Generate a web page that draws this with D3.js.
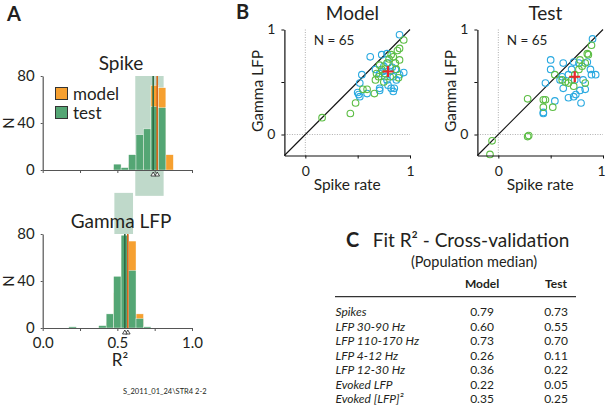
<!DOCTYPE html>
<html>
<head>
<meta charset="utf-8">
<script src="https://cdnjs.cloudflare.com/ajax/libs/d3/7.8.5/d3.min.js"></script>
<style>
  body { margin: 0; background: #fff; }
  text { font-family: Lato, "Open Sans", sans-serif; fill: #231f20; }
</style>
</head>
<body>
<svg id="fig" width="606" height="406"></svg>
<script>
  // ---- panel A : histograms of R2 (bin width 0.05, centres below) ----
  var binCentres = [0.2,0.25,0.3,0.35,0.4,0.45,0.5,0.55,0.6,0.65,0.7,0.75,0.8,0.85];
  var spikeModel = [0,0,0,0,0,0,2,1,5,12,25,72,70,13];
  var spikeTest  = [0,0,0,0,0,0,5,2,13,30,35,54,53,0];
  var lfpModel   = [0,0,0,0,1,5,30,60,74,12,0,0,0,0];
  var lfpTest    = [1,0,0,0,2,12,44,79,49,8,1,0,0,0];
  var spikeMedian = [0.767, 0.74];   // model, test
  var lfpMedian   = [0.57, 0.55];
  var spikeShade  = [0.62, 0.81, -22, 80];   // x0, x1, n0, n1
  var lfpShade    = [0.48, 0.605, 80, 115];
  var histTicks   = [0, 0.25, 0.5, 0.75, 1];

  // ---- panel B : scatter, spike rate R2 vs gamma LFP R2 ----
  var modelCyan = [[0.90,0.95],[0.62,0.74],[0.73,0.76],[0.78,0.77],[0.54,0.57],[0.52,0.49],
    [0.50,0.40],[0.52,0.36],[0.71,0.44],[0.71,0.42],[0.79,0.47],[0.82,0.44],[0.84,0.41],
    [0.85,0.44],[0.67,0.62],[0.71,0.58],[0.81,0.60],[0.86,0.62],[0.94,0.59],[0.90,0.57],
    [0.84,0.55],[0.78,0.52],[0.87,0.52],[0.75,0.65],[0.79,0.68],[0.59,0.39],[0.51,0.38],
    [0.76,0.55],[0.83,0.64],[0.74,0.60]];
  var modelGreen = [[0.16,0.16],[0.43,0.20],[0.48,0.30],[0.59,0.43],[0.55,0.43],[0.66,0.39],
    [0.67,0.52],[0.70,0.55],[0.73,0.62],[0.78,0.68],[0.84,0.74],[0.88,0.80],[0.90,0.82],
    [0.94,0.90],[0.86,0.68],[0.87,0.62],[0.89,0.54],[0.81,0.55],[0.76,0.58],[0.71,0.66],
    [0.82,0.76],[0.90,0.71],[0.75,0.50],[0.68,0.58],[0.80,0.72]];
  var testCyan = [[0.43,0.21],[0.43,0.20],[0.54,0.32],[0.45,0.49],[0.50,0.62],[0.50,0.71],
    [0.62,0.68],[0.72,0.69],[0.77,0.68],[0.61,0.55],[0.59,0.52],[0.62,0.44],[0.67,0.35],
    [0.72,0.36],[0.74,0.38],[0.79,0.30],[0.78,0.42],[0.83,0.43],[0.81,0.52],[0.88,0.62],
    [0.93,0.57],[0.89,0.57],[0.90,0.91],[0.70,0.62],[0.73,0.52],[0.67,0.57],[0.85,0.69]];
  var testGreen = [[-0.08,-0.19],[-0.06,-0.06],[0.28,-0.02],[0.29,-0.01],[0.28,0.34],[0.43,0.26],
    [0.45,0.33],[0.52,0.26],[0.54,0.57],[0.64,0.50],[0.67,0.49],[0.70,0.52],[0.73,0.57],
    [0.77,0.62],[0.80,0.65],[0.83,0.68],[0.85,0.77],[0.86,0.76],[0.89,0.85],[0.83,0.49],
    [0.78,0.71],[0.72,0.46],[0.61,0.52],[0.43,0.33]];
  var modelCentre = [0.79, 0.60];
  var testCentre  = [0.73, 0.55];

  // ---- panel C : table of population medians ----
  var tableRows  = ["Spikes","LFP 30-90 Hz","LFP 110-170 Hz","LFP 4-12 Hz","LFP 12-30 Hz","Evoked LFP","Evoked [LFP]\u00b2"];
  var tableModel = ["0.79","0.60","0.73","0.26","0.36","0.22","0.35"];
  var tableTest  = ["0.73","0.55","0.70","0.11","0.22","0.05","0.25"];

  var ORANGE = "#f6a030", GREEN = "#54a674", GREEN_LINE = "#2e6b45", ORANGE_LINE = "#d9661b";
  var SHADE = "#bfd9ca", CYAN = "#29a9e0", LGREEN = "#5cbd44", RED = "#e8262d";

  var svg = d3.select("#fig");
  svg.append("rect").attr("width", 606).attr("height", 406).attr("fill", "#fff");

  function styleAxis(g, col, size) {
    g.select(".domain").attr("stroke", col).attr("stroke-width", 1.2);
    g.selectAll(".tick line").attr("stroke", col);
    g.selectAll(".tick text").attr("fill", "#231f20")
      .style("font-family", "Lato, 'Open Sans', sans-serif").style("font-size", size + "px");
  }

  var xHist = d3.scaleLinear().domain([0, 1]).range([42.7, 192]);

  function drawHist(yBase, title, model, test, med, shade, withLabels) {
    var y = d3.scaleLinear().domain([0, 80]).range([yBase, yBase - 94]);
    var g = svg.append("g");

    g.append("rect")
      .attr("x", xHist(shade[0])).attr("width", xHist(shade[1]) - xHist(shade[0]))
      .attr("y", y(shade[3])).attr("height", y(shade[2]) - y(shade[3]))
      .attr("fill", SHADE);

    var bw = xHist(0.05) - xHist(0);
    g.selectAll(".mbar").data(binCentres).enter()
      .filter(function(d, i){ return model[i] > 0; })
      .append("rect")
      .attr("x", function(d){ return xHist(d - 0.025); })
      .attr("width", bw)
      .attr("y", function(d){ return y(model[binCentres.indexOf(d)]); })
      .attr("height", function(d){ return y(0) - y(model[binCentres.indexOf(d)]); })
      .attr("fill", ORANGE).attr("stroke", "#fff").attr("stroke-width", 0.4);

    g.selectAll(".tbar").data(binCentres).enter()
      .filter(function(d, i){ return test[i] > 0; })
      .append("rect")
      .attr("x", function(d){ return xHist(d - 0.025); })
      .attr("width", bw)
      .attr("y", function(d){ return y(test[binCentres.indexOf(d)]); })
      .attr("height", function(d){ return y(0) - y(test[binCentres.indexOf(d)]); })
      .attr("fill", GREEN).attr("stroke", "#fff").attr("stroke-width", 0.4);

    // medians
    g.append("line").attr("x1", xHist(med[1])).attr("x2", xHist(med[1]))
      .attr("y1", y(80)).attr("y2", y(0)).attr("stroke", GREEN_LINE).attr("stroke-width", 1.6);
    g.append("line").attr("x1", xHist(med[0])).attr("x2", xHist(med[0]))
      .attr("y1", y(80)).attr("y2", y(0)).attr("stroke", ORANGE_LINE).attr("stroke-width", 1.6);

    var ax = g.append("g").attr("transform", "translate(0," + y(0) + ")")
      .call(d3.axisBottom(xHist).tickValues(histTicks).tickSize(3).tickSizeOuter(0).tickPadding(6)
        .tickFormat(function(d){ return withLabels && (d * 2) % 1 === 0 ? d.toFixed(1) : ""; }));
    styleAxis(ax, "#555", 15);

    var ay = g.append("g").attr("transform", "translate(" + xHist(0) + ",0)")
      .call(d3.axisLeft(y).tickValues([0, 40, 80]).tickSize(2).tickSizeOuter(0).tickPadding(6));
    styleAxis(ay, "#555", 15);

    // median markers
    med.forEach(function(m){
      var cx = xHist(m), ty = y(0) + 2;
      g.append("path")
        .attr("d", "M" + (cx - 2.3) + "," + (ty + 4) + "L" + cx + "," + ty + "L" + (cx + 2.3) + "," + (ty + 4) + "Z")
        .attr("fill", "#fff").attr("stroke", "#222").attr("stroke-width", 0.8);
    });

    g.append("text").attr("x", 121).attr("y", yBase - 100).attr("text-anchor", "middle")
      .style("font-size", "19px").text(title);
    g.append("text").attr("transform", "translate(14," + (yBase - 47) + ") rotate(-90)")
      .attr("text-anchor", "middle").style("font-size", "15px").text("N");
    return g;
  }

  var gTop = drawHist(170, "Spike", spikeModel, spikeTest, spikeMedian, spikeShade, false);
  drawHist(328, "Gamma LFP", lfpModel, lfpTest, lfpMedian, lfpShade, true);

  svg.append("text").attr("x", 120).attr("y", 366).attr("text-anchor", "middle")
    .style("font-size", "17px").text("R\u00b2");

  // legend
  var legend = [["model", ORANGE], ["test", GREEN]];
  legend.forEach(function(l, i){
    gTop.append("rect").attr("x", 55.5).attr("y", 87.5 + i * 19).attr("width", 12).attr("height", 12)
      .attr("fill", l[1]).attr("stroke", "#333").attr("stroke-width", 1);
    gTop.append("text").attr("x", 73).attr("y", 99.5 + i * 19).style("font-size", "17px").text(l[0]);
  });

  svg.append("text").attr("x", 123).attr("y", 394).style("font-size", "7.5px").text("S_2011_01_24\\STR4 2-2");

  // ---- scatter panels ----
  function drawScatter(x0, title, cyan, green, centre) {
    var x = d3.scaleLinear().domain([-0.2, 1]).range([x0, x0 + 125.6]);
    var y = d3.scaleLinear().domain([-0.2, 1]).range([155.5, 29.5]);
    var g = svg.append("g");

    g.append("line").attr("x1", x(0)).attr("x2", x(0)).attr("y1", y(1)).attr("y2", y(-0.2))
      .attr("stroke", "#999").attr("stroke-width", 0.8).attr("stroke-dasharray", "1,1.5");
    g.append("line").attr("x1", x(-0.2)).attr("x2", x(1)).attr("y1", y(0)).attr("y2", y(0))
      .attr("stroke", "#999").attr("stroke-width", 0.8).attr("stroke-dasharray", "1,1.5");

    g.append("line").attr("x1", x(-0.2)).attr("y1", y(-0.2)).attr("x2", x(1)).attr("y2", y(1))
      .attr("stroke", "#111").attr("stroke-width", 1.1);

    g.selectAll(".c").data(cyan).enter().append("circle")
      .attr("cx", function(d){ return x(d[0]); }).attr("cy", function(d){ return y(d[1]); })
      .attr("r", 3.3).attr("fill", "none").attr("stroke", CYAN).attr("stroke-width", 1.1);
    g.selectAll(".g").data(green).enter().append("circle")
      .attr("cx", function(d){ return x(d[0]); }).attr("cy", function(d){ return y(d[1]); })
      .attr("r", 3.3).attr("fill", "none").attr("stroke", LGREEN).attr("stroke-width", 1.1);

    var cx = x(centre[0]), cy = y(centre[1]);
    g.append("path").attr("d", "M" + (cx - 5.5) + "," + cy + "H" + (cx + 5.5) + "M" + cx + "," + (cy - 5.5) + "V" + (cy + 5.5))
      .attr("stroke", RED).attr("stroke-width", 2.2);

    var fmt = function(d){ return d === 0.5 ? "" : d3.format("d")(d); };
    var ax = g.append("g").attr("transform", "translate(0," + y(-0.2) + ")")
      .call(d3.axisBottom(x).tickValues([0, 0.5, 1]).tickSize(3).tickSizeOuter(0).tickPadding(8).tickFormat(fmt));
    styleAxis(ax, "#111", 14);
    // keep the right-most label inside the page
    ax.selectAll(".tick text").filter(function(d){ return d === 1 && x(1) > 600; }).attr("dx", "-2");
    var ay = g.append("g").attr("transform", "translate(" + x(-0.2) + ",0)")
      .call(d3.axisLeft(y).tickValues([0, 0.5, 1]).tickSize(3).tickSizeOuter(0).tickPadding(6).tickFormat(fmt));
    styleAxis(ay, "#111", 14);

    g.append("text").attr("x", x(0.45)).attr("y", 20).attr("text-anchor", "middle")
      .style("font-size", "19px").text(title);
    g.append("text").attr("x", x(0.08)).attr("y", 45).style("font-size", "13.5px").text("N = 65");
    g.append("text").attr("x", x(0.4)).attr("y", 190).attr("text-anchor", "middle")
      .style("font-size", "15.5px").text("Spike rate");
    g.append("text").attr("transform", "translate(" + (x0 - 21) + ",91) rotate(-90)")
      .attr("text-anchor", "middle").style("font-size", "15.5px").text("Gamma LFP");
  }

  drawScatter(284.4, "Model", modelCyan, modelGreen, modelCentre);
  drawScatter(477.4, "Test", testCyan, testGreen, testCentre);

  // ---- table ----
  svg.append("text").attr("x", 471).attr("y", 247).attr("text-anchor", "middle")
    .style("font-size", "19px").text("Fit R\u00b2 - Cross-validation");
  svg.append("text").attr("x", 474).attr("y", 267).attr("text-anchor", "middle")
    .style("font-size", "14.5px").text("(Population median)");
  svg.append("text").attr("x", 482).attr("y", 288).attr("text-anchor", "middle")
    .style("font-size", "12px").style("font-weight", "bold").text("Model");
  svg.append("text").attr("x", 556).attr("y", 288).attr("text-anchor", "middle")
    .style("font-size", "12px").style("font-weight", "bold").text("Test");
  svg.append("line").attr("x1", 335).attr("x2", 576).attr("y1", 296.7).attr("y2", 296.7)
    .attr("stroke", "#333").attr("stroke-width", 1.3);

  var rowY = d3.scaleLinear().domain([0, 1]).range([316, 330.5]);
  tableRows.forEach(function(r, i){
    svg.append("text").attr("x", 335.5).attr("y", rowY(i)).style("font-size", "12px")
      .style("font-style", "italic").text(r);
    svg.append("text").attr("x", 482).attr("y", rowY(i)).attr("text-anchor", "middle")
      .style("font-size", "12px").text(tableModel[i]);
    svg.append("text").attr("x", 556).attr("y", rowY(i)).attr("text-anchor", "middle")
      .style("font-size", "12px").text(tableTest[i]);
  });

  // panel letters
  [["A", 7, 21], ["B", 236, 19], ["C", 346, 247]].forEach(function(p){
    svg.append("text").attr("x", p[1]).attr("y", p[2]).style("font-size", "20px")
      .style("font-weight", "bold").text(p[0]);
  });
</script>
</body>
</html>
